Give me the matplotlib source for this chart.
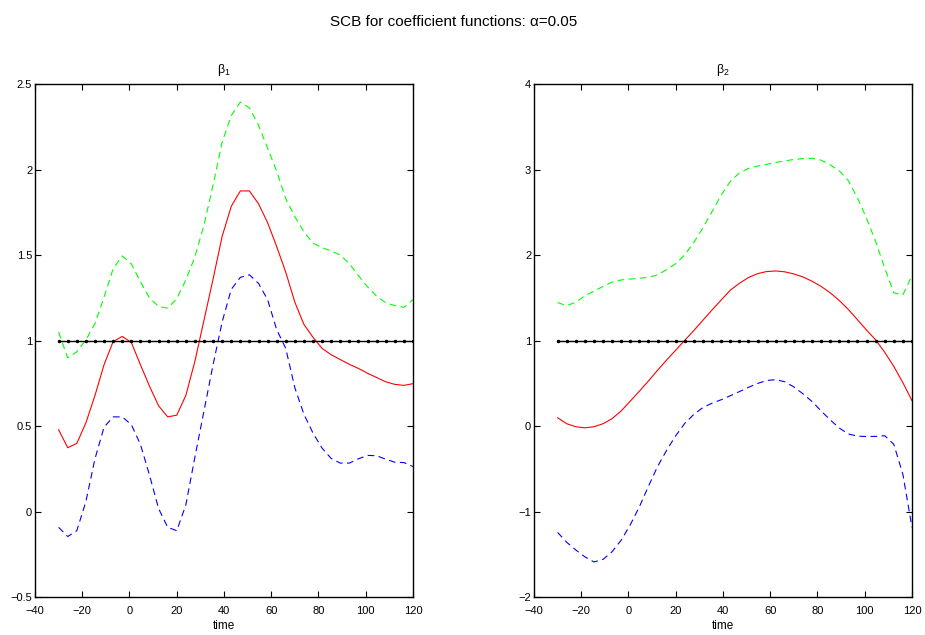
import numpy as np
import matplotlib
matplotlib.use("Agg")
import matplotlib.pyplot as plt

plt.rcParams['font.family'] = ['Liberation Sans', 'DejaVu Sans']
plt.rcParams['mathtext.fontset'] = 'custom'
plt.rcParams['mathtext.rm'] = 'Liberation Sans'
plt.rcParams['axes.unicode_minus'] = True

# time grid (40 points from -30 to 120)
time = np.linspace(-30, 120, 40)

# beta_1 : estimate, upper band, lower band
b1_est = [0.48, 0.375, 0.40, 0.52, 0.68, 0.86, 0.995, 1.025, 0.99, 0.86,
          0.735, 0.62, 0.555, 0.565, 0.68, 0.88, 1.12, 1.36, 1.61, 1.785,
          1.875, 1.875, 1.80, 1.69, 1.55, 1.40, 1.225, 1.095, 1.02, 0.955,
          0.918, 0.89, 0.862, 0.838, 0.81, 0.785, 0.76, 0.745, 0.739, 0.749]
b1_up = [1.05, 0.90, 0.935, 1.005, 1.10, 1.255, 1.42, 1.495, 1.45, 1.345,
         1.25, 1.20, 1.19, 1.245, 1.355, 1.49, 1.675, 1.91, 2.16, 2.315,
         2.394, 2.36, 2.26, 2.125, 1.99, 1.83, 1.725, 1.635, 1.57, 1.543,
         1.525, 1.50, 1.45, 1.38, 1.315, 1.26, 1.222, 1.205, 1.195, 1.24]
b1_lo = [-0.09, -0.144, -0.11, 0.06, 0.31, 0.495, 0.555, 0.555, 0.51, 0.395,
         0.215, 0.02, -0.09, -0.11, 0.04, 0.32, 0.59, 0.86, 1.11, 1.30,
         1.37, 1.385, 1.335, 1.24, 1.065, 0.955, 0.725, 0.57, 0.46, 0.372,
         0.312, 0.285, 0.285, 0.31, 0.33, 0.328, 0.308, 0.29, 0.288, 0.265]

# beta_2 : estimate, upper band, lower band
b2_est = [0.10, 0.03, -0.005, -0.018, -0.005, 0.03, 0.09, 0.18, 0.295, 0.41,
          0.53, 0.655, 0.775, 0.89, 1.005, 1.12, 1.24, 1.36, 1.475, 1.59,
          1.67, 1.738, 1.783, 1.808, 1.815, 1.805, 1.78, 1.745, 1.695, 1.635,
          1.56, 1.47, 1.365, 1.245, 1.125, 1.01, 0.865, 0.70, 0.51, 0.30]
b2_up = [1.445, 1.41, 1.45, 1.525, 1.58, 1.635, 1.685, 1.71, 1.72, 1.73,
         1.74, 1.77, 1.83, 1.90, 2.005, 2.15, 2.32, 2.51, 2.70, 2.86,
         2.96, 3.013, 3.04, 3.06, 3.083, 3.10, 3.118, 3.127, 3.132, 3.11,
         3.055, 2.985, 2.87, 2.67, 2.43, 2.16, 1.85, 1.56, 1.535, 1.76]
b2_lo = [-1.24, -1.355, -1.445, -1.525, -1.585, -1.555, -1.465, -1.33, -1.15, -0.94,
         -0.70, -0.47, -0.28, -0.11, 0.035, 0.14, 0.22, 0.27, 0.31, 0.357,
         0.405, 0.455, 0.50, 0.535, 0.545, 0.52, 0.46, 0.38, 0.29, 0.18,
         0.075, -0.02, -0.09, -0.115, -0.12, -0.118, -0.11, -0.21, -0.56, -1.18]

ref_value = 1.0

panels = [
    (r'$\mathregular{β_1}$', b1_est, b1_up, b1_lo,
     [-0.5, 0, 0.5, 1, 1.5, 2, 2.5], ['\u22120.5', '0', '0.5', '1', '1.5', '2', '2.5']),
    (r'$\mathregular{β_2}$', b2_est, b2_up, b2_lo,
     [-2, -1, 0, 1, 2, 3, 4], ['\u22122', '\u22121', '0', '1', '2', '3', '4']),
]
xticks = [-40, -20, 0, 20, 40, 60, 80, 100, 120]
xticklabels = ['\u221240', '\u221220', '0', '20', '40', '60', '80', '100', '120']

fig = plt.figure(figsize=(9.25, 6.35), dpi=100)
fig.text(0.490, 0.965, 'SCB for coefficient functions: \u03b1=0.05',
         ha='center', va='center', fontsize=11)

lefts = [35 / 925, 534 / 925]
for left, (title, est, up, lo, yt, ytl) in zip(lefts, panels):
    ax = fig.add_axes([left, 0.0591, 0.4086, 0.8087])
    ax.plot(time, up, color='#00ff00', linestyle=(0, (6, 4)), linewidth=0.8)
    ax.plot(time, lo, color='#0000ff', linestyle=(0, (6, 4)), linewidth=0.8)
    ax.plot(time, est, color='#ff0000', linewidth=0.8)
    ax.plot(time, [ref_value] * len(time), 'k.-', linewidth=1.0, markersize=3)
    ax.set_xlim(-40, 120)
    ax.set_ylim(yt[0], yt[-1])
    ax.set_xticks(xticks)
    ax.set_xticklabels(xticklabels)
    ax.set_yticks(yt)
    ax.set_yticklabels(ytl)
    ax.tick_params(direction='in', length=4, width=0.8, top=True, right=True,
                   labelsize=8)
    ax.tick_params(axis='x', pad=6)
    ax.tick_params(axis='y', pad=2)
    for s in ax.spines.values():
        s.set_linewidth(1.0)
    ax.set_title(title, fontsize=9, pad=8)
    ax.set_xlabel('time', fontsize=8.5, labelpad=3)

fig.savefig('out.png', dpi=100)
